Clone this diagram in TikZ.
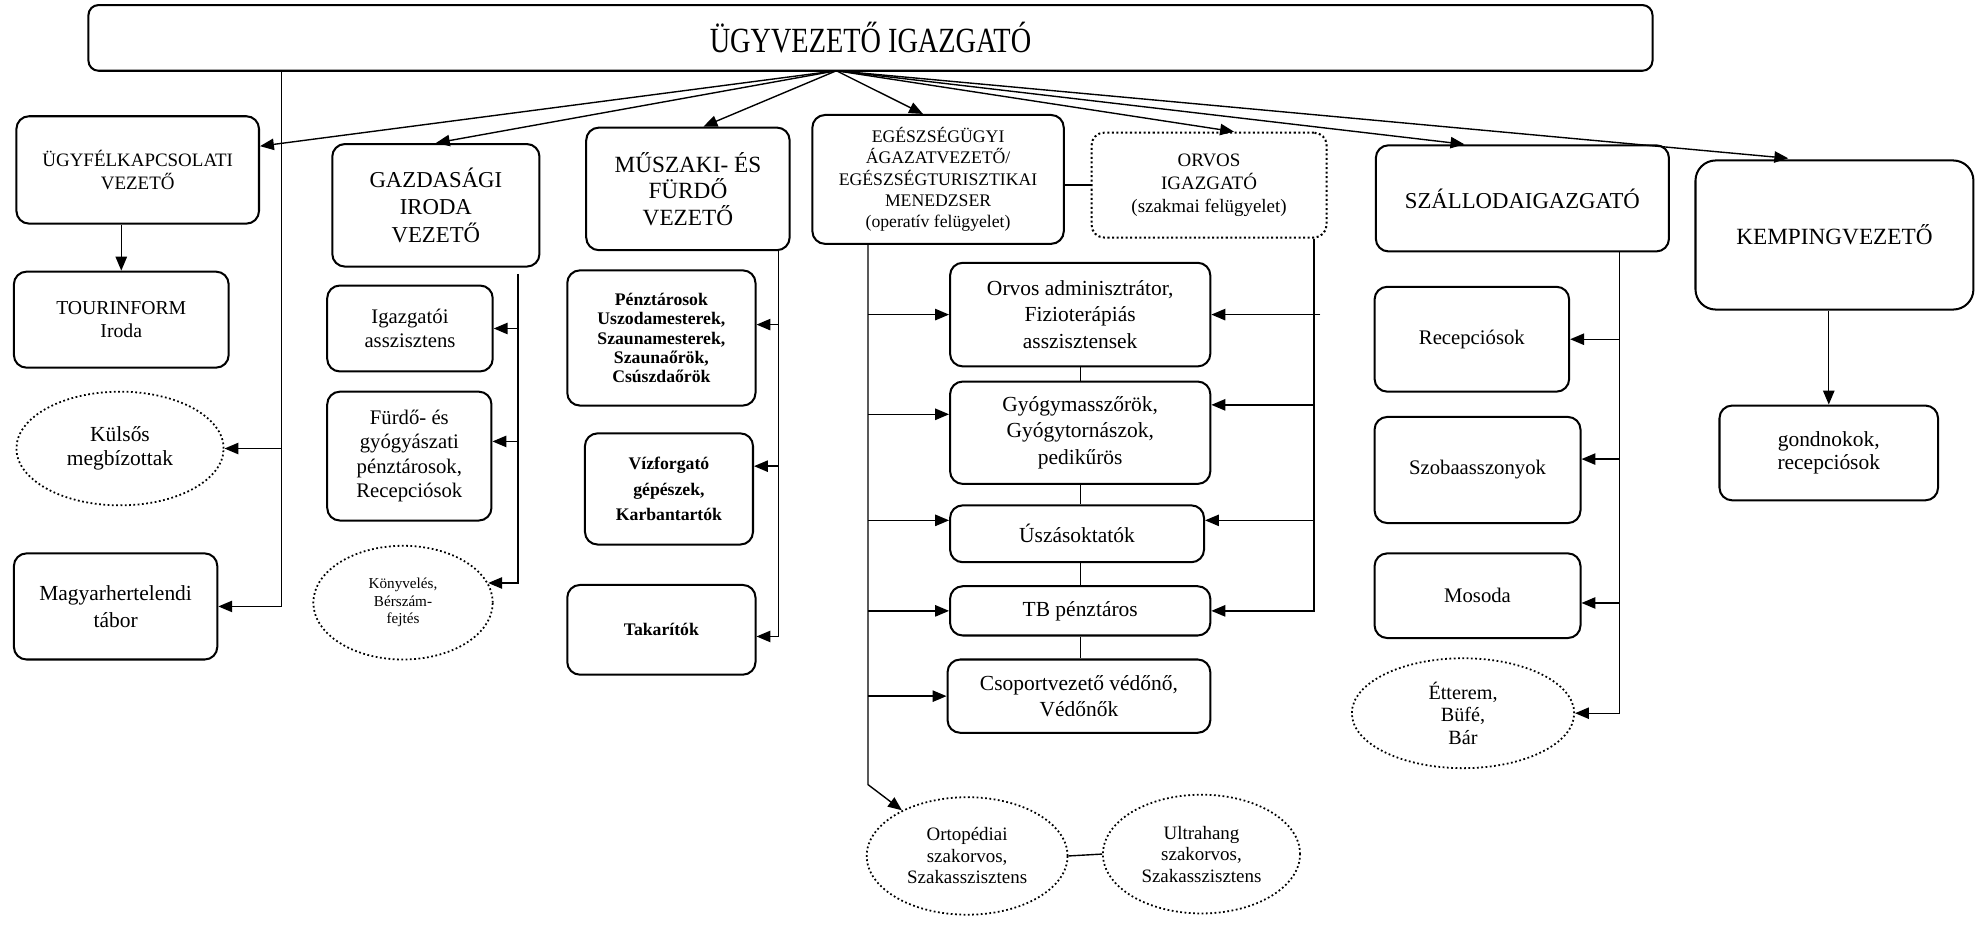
\documentclass[tikz,border=0pt]{standalone}
\usepackage{fontspec}
\setmainfont{Liberation Serif}
\newfontfamily\titlefont[FakeStretch=0.8]{Liberation Serif}
\usetikzlibrary{arrows.meta,shapes.geometric}

\begin{document}
\begin{tikzpicture}[
    x=0.5pt, y=-0.5pt,
    box/.style={
        rectangle,
        draw,
        rounded corners=5pt,
        align=center,
        inner sep=1pt,
        line width=0.8pt
    },
    dotbox/.style={
        box,
        densely dotted
    },
    cloud/.style={
        ellipse,
        draw,
        densely dotted,
        align=center,
        inner sep=0pt,
        line width=0.7pt
    },
    line/.style={
        draw,
        line width=0.55pt
    },
    arrow/.style={
        draw,
        line width=0.55pt,
        -{Triangle[length=5.5pt, width=4.5pt]}
    }
]
    \useasboundingbox (0,0) rectangle (1568,735);

    % Director
    \node [box, rounded corners=4pt, minimum width=619pt, minimum height=26pt, font=\titlefont\fontsize{14}{16}\selectfont] (top) at (689,30) {ÜGYVEZETŐ IGAZGATÓ};
    \coordinate (src) at (662,56);

    % Spines
    \coordinate (uspine) at (223,0);
    \coordinate (gspine) at (410,0);
    \coordinate (mspine) at (616,0);
    \coordinate (espine) at (687,0);
    \coordinate (ospine) at (1040,0);
    \coordinate (sspine) at (1282,0);
    \coordinate (ebend) at (687,621);

    % Customer relations
    \node [box, minimum width=96pt, minimum height=42.5pt, font=\fontsize{7.5}{9.2}\selectfont] (ugyfel) at (109,134.5) {ÜGYFÉLKAPCSOLATI\\VEZETŐ};
    \node [box, minimum width=85pt, minimum height=38pt, font=\fontsize{7.8}{9.2}\selectfont] (tour) at (96,253) {TOURINFORM\\Iroda};
    \node [cloud, minimum width=82pt, minimum height=45pt, font=\fontsize{8.5}{9.5}\selectfont] (kulsos) at (95,355) {Külsős\\megbízottak};
    \node [box, minimum width=80.5pt, minimum height=42pt, font=\fontsize{8.5}{10.5}\selectfont] (magyar) at (91.5,480) {Magyarhertelendi\\tábor};

    % Finance office
    \node [box, minimum width=82pt, minimum height=48.5pt, font=\fontsize{9}{11}\selectfont] (gazd) at (345,162.5) {GAZDASÁGI\\IRODA\\VEZETŐ};
    \node [box, minimum width=65.5pt, minimum height=34pt, font=\fontsize{8.2}{9.6}\selectfont] (igazg) at (324.5,260) {Igazgatói\\asszisztens};
    \node [box, minimum width=65pt, minimum height=51pt, font=\fontsize{8.2}{9.6}\selectfont] (furdo) at (324,361) {Fürdő- és\\gyógyászati\\pénztárosok,\\Recepciósok};
    \node [cloud, minimum width=71pt, minimum height=45pt, font=\fontsize{6}{7}\selectfont] (konyv) at (319,477) {Könyvelés,\\Bérszám-\\fejtés};

    % Technical and bath
    \node [box, minimum width=80.5pt, minimum height=48.5pt, font=\fontsize{9.2}{10.5}\selectfont] (muszaki) at (544.5,149.5) {MŰSZAKI- ÉS\\FÜRDŐ\\VEZETŐ};
    \node [box, minimum width=74.5pt, minimum height=53.5pt, font=\bfseries\fontsize{7}{7.6}\selectfont] (penzt) at (523.5,267.5) {Pénztárosok\\Uszodamesterek,\\Szaunamesterek,\\Szaunaőrök,\\Csúszdaőrök};
    \node [box, minimum width=66.5pt, minimum height=44pt, font=\bfseries\fontsize{7}{10}\selectfont] (vizf) at (529.5,387) {Vízforgató\\gépészek,\\Karbantartók};
    \node [box, minimum width=74.5pt, minimum height=35.5pt, font=\bfseries\fontsize{7}{9}\selectfont] (takar) at (523.5,498.5) {Takarítók};

    % Health
    \node [box, minimum width=99.5pt, minimum height=51pt, font=\fontsize{7}{8.4}\selectfont] (egesz) at (742.5,142) {EGÉSZSÉGÜGYI\\ÁGAZATVEZETŐ/\\EGÉSZSÉGTURISZTIKAI\\MENEDZSER\\(operatív felügyelet)};
    \node [dotbox, minimum width=93pt, minimum height=41.5pt, font=\fontsize{7.5}{9}\selectfont] (orvosig) at (957,146.5) {ORVOS\\IGAZGATÓ\\(szakmai felügyelet)};
    \node [box, minimum width=103pt, minimum height=41pt, font=\fontsize{8.5}{10.5}\selectfont] (admin) at (855,249) {Orvos adminisztrátor,\\Fizioterápiás\\asszisztensek};
    \node [box, minimum width=103pt, minimum height=40.5pt, font=\fontsize{8.5}{10.5}\selectfont] (gyogy) at (855,342.5) {Gyógymasszőrök,\\Gyógytornászok,\\pedikűrös};
    \node [box, minimum width=100.5pt, minimum height=22.5pt, font=\fontsize{8.5}{10.5}\selectfont] (uszas) at (852.5,422.5) {Úszásoktatók};
    \node [box, minimum width=103pt, minimum height=19.5pt, font=\fontsize{8.5}{10.5}\selectfont] (tb) at (855,483.5) {TB pénztáros};
    \node [box, minimum width=104pt, minimum height=29pt, font=\fontsize{8.5}{10.5}\selectfont] (csop) at (854,551) {Csoportvezető védőnő,\\Védőnők};
    \node [cloud, minimum width=79.5pt, minimum height=46.5pt, font=\fontsize{7.5}{8.5}\selectfont] (orto) at (765.5,677.5) {Ortopédiai\\szakorvos,\\Szakasszisztens};
    \node [cloud, minimum width=78pt, minimum height=47pt, font=\fontsize{7.5}{8.5}\selectfont] (ultra) at (951,676) {Ultrahang\\szakorvos,\\Szakasszisztens};

    % Hotel
    \node [box, minimum width=116pt, minimum height=42pt, font=\fontsize{9}{10.5}\selectfont] (szallo) at (1205,157) {SZÁLLODAIGAZGATÓ};
    \node [box, minimum width=77pt, minimum height=41.5pt, font=\fontsize{8.2}{9.6}\selectfont] (recep) at (1165,268.5) {Recepciósok};
    \node [box, minimum width=81.5pt, minimum height=42pt, font=\fontsize{8.2}{9.6}\selectfont] (szoba) at (1169.5,372) {Szobaasszonyok};
    \node [box, minimum width=81.5pt, minimum height=33.5pt, font=\fontsize{8.2}{9.6}\selectfont] (mosoda) at (1169.5,471.5) {Mosoda};
    \node [cloud, minimum width=88pt, minimum height=43.5pt, font=\fontsize{8}{8.8}\selectfont] (etterem) at (1158,564.5) {Étterem,\\Büfé,\\Bár};

    % Camping
    \node [box, rounded corners=8pt, minimum width=110pt, minimum height=59pt, font=\fontsize{9.2}{11}\selectfont] (kemping) at (1452,186) {KEMPINGVEZETŐ};
    \node [box, minimum width=86.5pt, minimum height=37.5pt, font=\fontsize{8.5}{9}\selectfont] (gondn) at (1447.5,358.5) {gondnokok,\\recepciósok};

    % From the director
    \path [arrow] (src) -- (ugyfel.11);
    \path [arrow] (src) -- (gazd.north);
    \path [arrow] (src) -- (muszaki.76);
    \path [arrow] (src) -- (egesz.103);
    \path [arrow] (src) -- (orvosig.65);
    \path [arrow] (src) -- (szallo.137);
    \path [arrow, shorten >=5pt] (src) -- (kemping.114);

    % Customer relations branch
    \path [arrow] (top.south -| uspine) |- (magyar.east);
    \path [arrow] (uspine |- kulsos.east) -- (kulsos.east);
    \path [arrow] (ugyfel.south -| tour.north) -- (tour.north);

    % Finance branch
    \path [arrow] ([yshift=-2.5pt]gazd.south -| gspine) |- (konyv.13);
    \path [arrow] (gspine |- igazg.east) -- (igazg.east);
    \path [arrow] (gspine |- furdo.10) -- (furdo.10);

    % Technical branch
    \path [arrow] (muszaki.south -| mspine) |- (takar.-4);
    \path [arrow] (mspine |- penzt.8) -- (penzt.8);
    \path [arrow] (mspine |- vizf.15) -- (vizf.15);

    % Health branch (operative)
    \path [arrow] (egesz.south -| espine) -- (ebend) -- (orto.145);
    \path [arrow] (espine |- admin.west) -- (admin.west);
    \path [arrow] (espine |- gyogy.172) -- (gyogy.172);
    \path [arrow] (espine |- uszas.174) -- (uszas.174);
    \path [arrow] (espine |- tb.west) -- (tb.west);
    \path [arrow] (espine |- csop.west) -- (csop.west);
    \path [line] (egesz.east |- orvosig.west) -- (orvosig.west);

    % Health branch (professional)
    \path [arrow] (orvosig.south -| ospine) |- (tb.east);
    \path [arrow] ([xshift=2.5pt]ospine |- admin.east) -- (admin.east);
    \path [arrow] (ospine |- gyogy.12) -- (gyogy.12);
    \path [arrow] (ospine |- uszas.6) -- (uszas.6);

    % Links inside the health column
    \path [line] (admin.south) -- (admin.south |- gyogy.north);
    \path [line] (gyogy.south) -- (gyogy.south |- uszas.north);
    \path [line] (tb.north |- uszas.south) -- (tb.north);
    \path [line] (tb.south) -- (tb.south |- csop.north);
    \path [line] (orto.east) -- (ultra.west);

    % Hotel branch
    \path [arrow] (szallo.south -| sspine) |- (etterem.east);
    \path [arrow] (sspine |- recep.east) -- (recep.east);
    \path [arrow] (sspine |- szoba.6) -- (szoba.6);
    \path [arrow] (sspine |- mosoda.-4) -- (mosoda.-4);

    % Camping branch
    \path [arrow] (kemping.south -| gondn.north) -- (gondn.north);
\end{tikzpicture}
\end{document}
